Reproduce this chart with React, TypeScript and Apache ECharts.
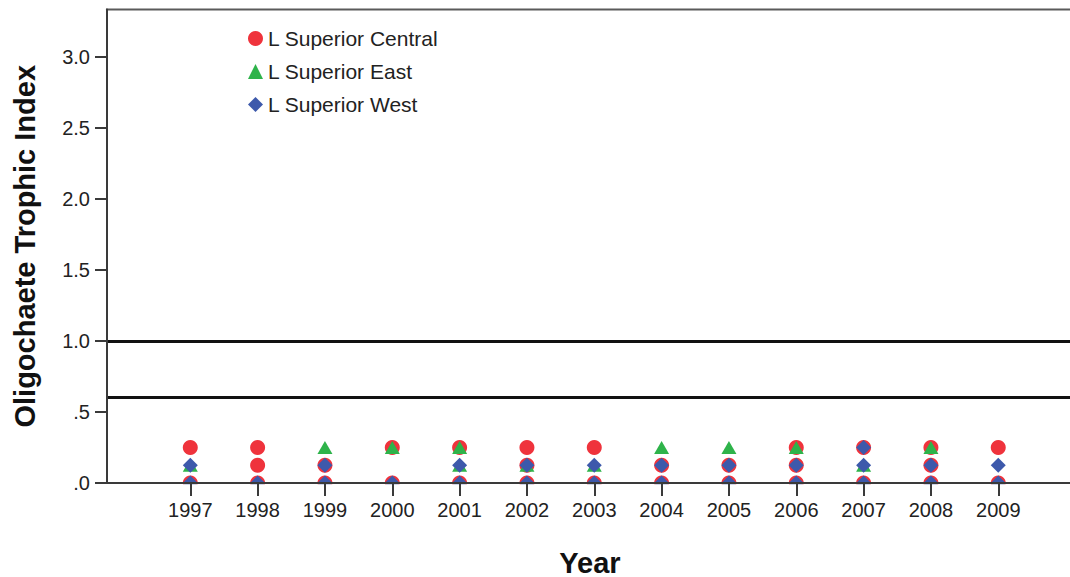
import React, { useEffect, useRef } from "react";
import * as echarts from "echarts";

const years = [1997, 1998, 1999, 2000, 2001, 2002, 2003, 2004, 2005, 2006, 2007, 2008, 2009];
const yTicks = [0, 0.5, 1.0, 1.5, 2.0, 2.5, 3.0];
const referenceLines = [0.6, 1.0];

const centralPoints: [number, number][] = [
  [1997, 0.25], [1998, 0.25], [2000, 0.25], [2001, 0.25], [2002, 0.25], [2003, 0.25],
  [2006, 0.25], [2007, 0.25], [2008, 0.25], [2009, 0.25],
  [1998, 0.125], [1999, 0.125], [2002, 0.125], [2004, 0.125], [2005, 0.125], [2006, 0.125], [2008, 0.125],
  [1997, 0], [1998, 0], [1999, 0], [2000, 0], [2001, 0], [2002, 0], [2003, 0],
  [2004, 0], [2005, 0], [2006, 0], [2007, 0], [2008, 0], [2009, 0],
];

const eastPoints: [number, number][] = [
  [1999, 0.25], [2000, 0.25], [2001, 0.25], [2004, 0.25], [2005, 0.25], [2006, 0.25], [2008, 0.25],
  [1997, 0.125], [2001, 0.125], [2002, 0.125], [2003, 0.125], [2007, 0.125],
];

const westPoints: [number, number][] = [
  [2007, 0.25],
  [1997, 0.125], [1999, 0.125], [2001, 0.125], [2002, 0.125], [2003, 0.125], [2004, 0.125],
  [2005, 0.125], [2006, 0.125], [2007, 0.125], [2008, 0.125], [2009, 0.125],
  [1997, 0], [1998, 0], [1999, 0], [2000, 0], [2001, 0], [2002, 0], [2003, 0],
  [2004, 0], [2005, 0], [2006, 0], [2007, 0], [2008, 0], [2009, 0],
];

const FONT = "'Liberation Sans', Arial, sans-serif";

export default function App() {
  const ref = useRef<HTMLDivElement>(null);
  useEffect(() => {
    if (!ref.current) return;
    const chart = echarts.init(ref.current, null, { renderer: "svg" });
    const axisColor = "#3a3a3a";
    chart.setOption({
      animation: false,
      backgroundColor: "#ffffff",
      textStyle: { fontFamily: FONT },
      grid: {
        left: 107,
        right: -3,
        top: 9.5,
        bottom: 94,
        show: true,
        borderColor: "#5a5a5a",
        borderWidth: 2,
        backgroundColor: "transparent",
        containLabel: false,
        outerBoundsMode: "none",
      },
      legend: {
        orient: "vertical",
        left: 243,
        top: 23,
        itemWidth: 15,
        itemHeight: 15,
        itemGap: 12,
        textStyle: { fontSize: 21, color: "#222", fontFamily: FONT },
        data: [
          { name: "L Superior Central", icon: "circle" },
          { name: "L Superior East", icon: "triangle" },
          { name: "L Superior West", icon: "diamond" },
        ],
      },
      xAxis: {
        type: "value",
        min: 1995.763,
        max: 2010.11,
        z: 5,
        name: "Year",
        nameLocation: "middle",
        nameGap: 65,
        nameTextStyle: { fontSize: 29, fontWeight: "bold", color: "#111", fontFamily: FONT },
        splitLine: { show: false },
        axisLine: { show: true, lineStyle: { color: axisColor, width: 2 } },
        axisTick: { show: true, length: 13, lineStyle: { color: axisColor, width: 2 }, customValues: years },
        axisLabel: {
          customValues: years,
          margin: 17,
          fontSize: 20,
          color: "#222",
          fontFamily: FONT,
          formatter: (v: number) => String(v),
        },
      },
      yAxis: {
        type: "value",
        min: 0,
        max: 3.332,
        z: 5,
        name: "Oligochaete Trophic Index",
        nameLocation: "middle",
        nameGap: 68,
        nameTextStyle: { fontSize: 29, fontWeight: "bold", color: "#111", fontFamily: FONT },
        splitLine: { show: false },
        axisLine: { show: true, lineStyle: { color: axisColor, width: 2 } },
        axisTick: { show: true, length: 12, lineStyle: { color: axisColor, width: 2 }, customValues: yTicks },
        axisLabel: {
          customValues: yTicks,
          margin: 17,
          fontSize: 20,
          color: "#222",
          fontFamily: FONT,
          formatter: (v: number) => v.toFixed(1).replace(/^0/, ""),
        },
      },
      graphic: [
        {
          type: "rect",
          z: 3,
          silent: true,
          shape: { x: 108, y: 484.2, width: 970, height: 9 },
          style: { fill: "#ffffff" },
        },
      ],
      series: [
        {
          name: "L Superior Central",
          type: "scatter",
          symbol: "circle",
          symbolSize: 15,
          clip: false,
          itemStyle: { color: "#ef333c", opacity: 1 },
          data: centralPoints,
          markLine: {
            silent: true,
            symbol: "none",
            label: { show: false },
            lineStyle: { color: "#111", width: 3, type: "solid" },
            data: referenceLines.map((v) => ({ yAxis: v })),
          },
        },
        {
          name: "L Superior East",
          type: "scatter",
          symbol: "triangle",
          symbolSize: [15, 13],
          clip: false,
          itemStyle: { color: "#2eb34a", opacity: 1 },
          data: eastPoints,
        },
        {
          name: "L Superior West",
          type: "scatter",
          symbol: "diamond",
          symbolSize: 15,
          clip: false,
          itemStyle: { color: "#3d59ab", opacity: 1 },
          data: westPoints,
        },
      ],
    });
    return () => chart.dispose();
  }, []);
  return (
    <div
      ref={ref}
      style={{ position: "absolute", left: 0, top: 0, width: 1070, height: 577, background: "#fff" }}
    />
  );
}
